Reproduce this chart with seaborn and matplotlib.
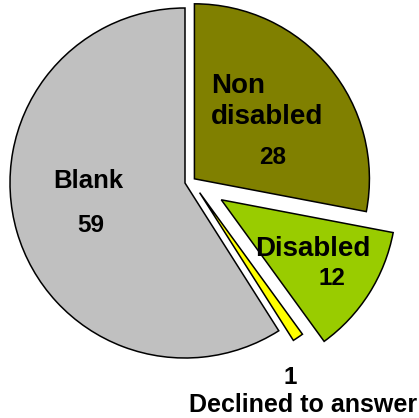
import matplotlib
matplotlib.use("Agg")
import matplotlib.pyplot as plt
import seaborn as sns

sns.set_style("white")
plt.rcParams["font.family"] = ["Liberation Sans", "DejaVu Sans"]

# ---------------------------------------------------
# Data (clockwise from 12 o'clock)
# ---------------------------------------------------

categories = ["Non\ndisabled", "Disabled", "Declined to answer", "Blank"]
counts = [28, 12, 1, 59]
colors = ["#808000", "#99CC00", "#FFFF00", "#C0C0C0"]
explode = [0.02, 0.20, 0.08, 0.04]

# label placement, relative to each wedge's own centre (radius units)
name_offsets = [(0.417, 0.444), (0.525, -0.28), (0.593, -1.215), (-0.55, 0.01)]
value_offsets = [(0.447, 0.12), (0.63, -0.45), (0.518, -1.055), (-0.54, -0.24)]
name_sizes = [20, 20, 18, 18.5]


# ---------------------------------------------------
# Pie
# ---------------------------------------------------

fig = plt.figure(figsize=(4.19, 4.18), dpi=100)
ax = fig.add_axes([0, 0, 1, 1])

wedges, _ = ax.pie(counts,
                   colors=colors,
                   explode=explode,
                   startangle=90,
                   counterclock=False,
                   wedgeprops=dict(edgecolor="black", linewidth=1.1))

for w, name, val, (nx, ny), (vx, vy), fs in zip(wedges, categories, counts,
                                                name_offsets, value_offsets,
                                                name_sizes):
    cx, cy = w.center
    ax.text(cx + nx, cy + ny, name,
            ha="center", va="center",
            multialignment="left",
            linespacing=1.25,
            fontsize=fs, fontweight="bold", color="black")
    ax.text(cx + vx, cy + vy, str(val),
            ha="center", va="center",
            fontsize=17.5, fontweight="bold", color="black")

# frame the view around the big "Blank" wedge (175 px per radius)
bx, by = wedges[-1].center
ax.set_xlim(bx - 185 / 175, bx + 234 / 175)
ax.set_ylim(by - 235 / 175, by + 183 / 175)
ax.set_aspect("equal")
ax.axis("off")

fig.savefig("out.png", dpi=100)
plt.close(fig)
